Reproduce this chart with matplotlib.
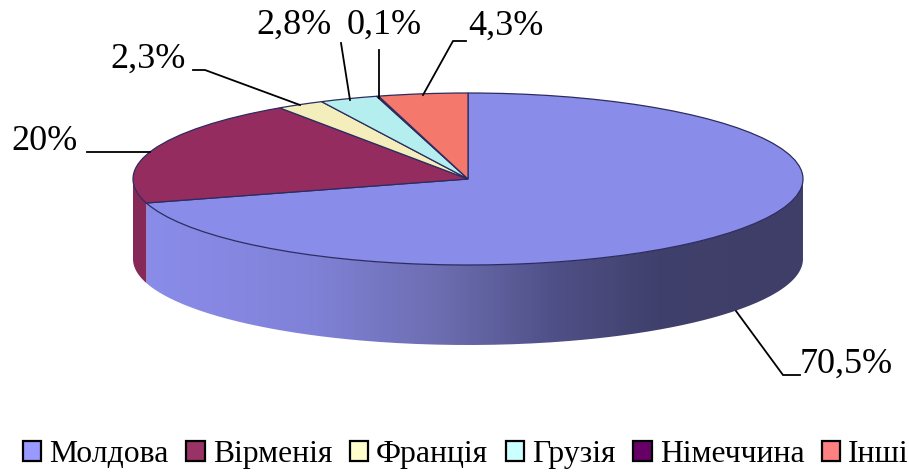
import matplotlib
matplotlib.use('Agg')
import matplotlib.pyplot as plt
import numpy as np
from matplotlib.colors import LinearSegmentedColormap
from matplotlib.patches import Patch, PathPatch, Polygon
from matplotlib.path import Path

plt.rcParams['font.family'] = ['Liberation Serif', 'DejaVu Serif']

countries = ['Молдова', 'Вірменія', 'Франція', 'Грузія', 'Німеччина', 'Інші']
shares = [70.5, 20, 2.3, 2.8, 0.1, 4.3]
share_labels = ['70,5%', '20%', '2,3%', '2,8%', '0,1%', '4,3%']

top_colors = ['#8a8cea', '#952c60', '#f4eebc', '#b4eeee', '#660066', '#f4786c']
legend_colors = ['#9999ff', '#993366', '#ffffcc', '#ccffff', '#660066', '#ff8080']
side_color = '#862858'
edge_color = '#2c2c60'

# pie geometry in reference pixels
W, H = 909, 472
cx, cy, rx, ry = 468, 179, 335, 86
depth = 80 / ry


def px(x, y):
    return (x - cx) / rx, (cy - y) / ry


def side_path(a0, a1):
    t = np.radians(np.linspace(a0, a1, 200))
    x = np.cos(t)
    y = np.sin(t)
    return np.column_stack([np.r_[x, x[::-1]], np.r_[y, y[::-1] - depth]])


fig = plt.figure(figsize=(W / 100, H / 100), dpi=100)
ax = fig.add_axes([0, 0, 1, 1])

ax.pie(shares, colors=top_colors, startangle=90, counterclock=False, radius=1,
       wedgeprops={'edgecolor': edge_color, 'linewidth': 0.9, 'zorder': 3})

x0, y0 = px(0, H)
x1, y1 = px(W, 0)

# side walls, only the two front slices show
end1 = 90 - shares[0] * 3.6
side_cmap = LinearSegmentedColormap.from_list('side', [
    (0.0, '#8a8cea'), (0.25, '#8082d8'), (0.45, '#6c6db0'),
    (0.62, '#505088'), (0.78, '#40406c'), (1.0, '#3e3e68')])
grad = np.linspace(0, 1, 400).reshape(1, -1)
left = np.cos(np.radians(end1))
im = ax.imshow(grad, cmap=side_cmap, extent=[left, 1, -1 - depth, 0.1], aspect='auto', zorder=1)
clip = PathPatch(Path(side_path(end1, 0)), facecolor='none', edgecolor='none', transform=ax.transData)
ax.add_patch(clip)
im.set_clip_path(clip)
ax.add_patch(Polygon(side_path(180, end1 + 360), closed=True, facecolor=side_color,
                     edgecolor='none', zorder=1))

ax.set_xlim(x0, x1)
ax.set_ylim(y0, y1)
ax.set_aspect('auto')
ax.axis('off')

# leader lines, same order as share_labels
leaders = [
    [(800, 375), (783, 375), (736, 311)],
    [(87, 152), (150, 152)],
    [(193, 70), (205, 70), (300, 105)],
    [(341, 43), (350, 100)],
    [(379, 50), (379, 98)],
    [(466, 41), (453, 41), (423, 95)],
]
label_pos = [(846, 364), (44, 141), (148, 59), (294, 25), (384, 25), (506, 26)]

for pts, pos, lab in zip(leaders, label_pos, share_labels):
    xy = np.array([px(*p) for p in pts])
    ax.plot(xy[:, 0], xy[:, 1], color='black', lw=1.3, zorder=4, solid_joinstyle='miter')
    ax.text(*px(*pos), lab, fontsize=26, ha='center', va='center', color='black', zorder=5)

handles = [Patch(facecolor=c, edgecolor='black', linewidth=1.6) for c in legend_colors]
ax.legend(handles, countries, loc='lower left', bbox_to_anchor=(23 / W, 1 - 469 / H),
          bbox_transform=fig.transFigure, ncol=6, frameon=False, fontsize=22.8,
          borderpad=0, borderaxespad=0, handlelength=0.58, handleheight=0.58,
          handletextpad=0.25, columnspacing=0.56, labelspacing=0)

fig.savefig('out.png', dpi=100)
